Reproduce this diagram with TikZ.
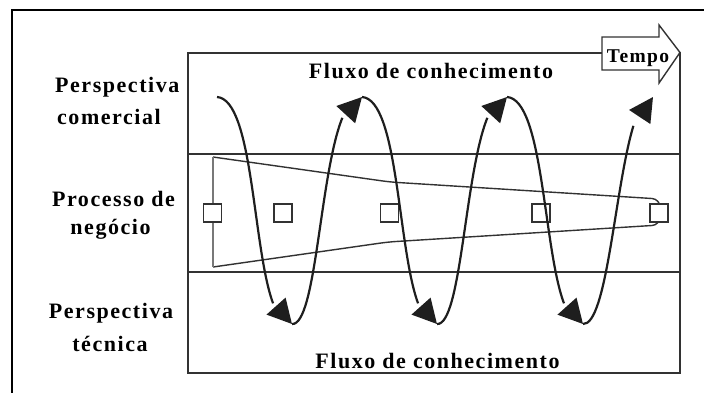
\documentclass[tikz,border=0pt]{standalone}
\usepackage{fontspec}
\newfontfamily\lblfont[LetterSpace=7]{Liberation Serif}
\usetikzlibrary{arrows.meta,bending}
\definecolor{ink}{RGB}{30,30,30}
\definecolor{boxc}{RGB}{50,50,50}
\definecolor{leftc}{RGB}{120,120,120}
\begin{document}
\begin{tikzpicture}[x=1pt,y=-1pt,
  lbl/.style={font=\lblfont\bfseries\fontsize{22}{22}\selectfont, inner sep=0pt, anchor=base},
  lblsmall/.style={font=\lblfont\bfseries\fontsize{19.5}{19.5}\selectfont, inner sep=0pt, anchor=base},
  boxline/.style={draw=boxc, line width=1.5pt},
  funnel/.style={draw=boxc, line width=1.4pt, line join=round},
  sq/.style={draw=boxc, fill=white, line width=1.2pt, minimum size=18pt, inner sep=0pt},
  flow/.style={draw=ink, line width=2.2pt, -{Triangle[length=24pt,width=25pt,flex]}},
  tempoarrow/.style={draw=boxc, fill=white, line width=1.4pt, line join=miter}
]
\clip (0,0) rectangle (704,392);
% outer frame (cut by picture edge)
\draw[line width=2pt] (12,10) rectangle (720,410);
% inner box and band lines
\draw[boxline] (188,53) rectangle (680,373);
\draw[boxline] (188,154) -- (680,154);
\draw[boxline] (188,272) -- (680,272);
% funnel
\draw[funnel, rounded corners=8pt] (213,157) -- (390,182) -- (660,199) -- (660,225) -- (388,242) -- (213,267);
\draw[draw=leftc, line width=1.4pt] (213,157) -- (213,267);
% squares
\node[sq] (q1) at (212.5,213) {};
\node[sq] (q2) at (283,213) {};
\node[sq] (q3) at (389.5,213) {};
\node[sq] (q4) at (541,213) {};
\node[sq] (q5) at (659,213) {};
% Tempo arrow
\draw[tempoarrow] (602,37) -- (659,37) -- (659,25) -- (680,52.5) -- (659,83) -- (659,70) -- (602,70) -- cycle;
\node[lblsmall] (tempo) at (638,62) {Tempo};
% spiral of knowledge flow
\coordinate (s0) at (217,97);
\coordinate (b1) at (292,324);
\coordinate (t1) at (362,97);
\coordinate (b2) at (437,324);
\coordinate (t2) at (507,97);
\coordinate (b3) at (583,324);
\coordinate (t3) at (653,97);
\draw[flow] (s0) .. controls (262,100) and (250,326) .. (b1);
\draw[flow] (b1) .. controls (322,326) and (320,95) .. (t1);
\draw[flow] (t1) .. controls (407,100) and (395,326) .. (b2);
\draw[flow] (b2) .. controls (467,326) and (465,95) .. (t2);
\draw[flow] (t2) .. controls (552,100) and (541,326) .. (b3);
\draw[flow] (b3) .. controls (614,326) and (618,95) .. (t3);
% labels
\node[lbl, anchor=base west] (pc1) at (55,92) {Perspectiva};
\node[lbl, anchor=base west] (pc2) at (57,124) {comercial};
\node[lbl] (pn1) at (113.5,206) {Processo de};
\node[lbl] (pn2) at (110.5,234) {negócio};
\node[lbl] (pt1) at (111,318) {Perspectiva};
\node[lbl] (pt2) at (110,351) {técnica};
\node[lbl] (fluxtop) at (431,78) {Fluxo de conhecimento};
\node[lbl] (fluxbot) at (437.5,368) {Fluxo de conhecimento};
\end{tikzpicture}
\end{document}
